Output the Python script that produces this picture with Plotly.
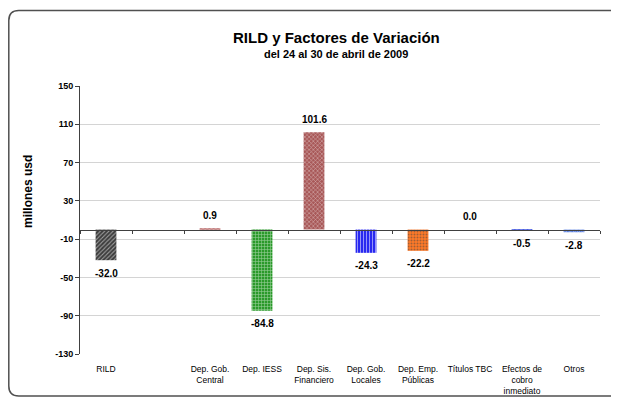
import plotly.graph_objects as go

categories = ["RILD", " ", "Dep. Gob.<br>Central", "Dep. IESS", "Dep. Sis.<br>Financiero",
              "Dep. Gob.<br>Locales", "Dep. Emp.<br>Públicas", "Títulos TBC",
              "Efectos de<br>cobro<br>inmediato", "Otros"]
values = [-32.0, None, 0.9, -84.8, 101.6, -24.3, -22.2, 0.0, -0.5, -2.8]
value_labels = ["-32.0", "", "0.9", "-84.8", "101.6", "-24.3", "-22.2", "0.0", "-0.5", "-2.8"]
bg_colors = ["#3c3c3c", "#ffffff", "#e0a0a0", "#2a9a2a", "#a85858", "#2828f0", "#ff7a28", "#ffffff", "#4a5ee0", "#5a80e0"]
fg_colors = ["#b0b0b0", "#ffffff", "#f0c0c0", "#90e090", "#e8c0c0", "#9090ff", "#ffc090", "#ffffff", "#a0b0ff", "#a8c0f0"]
shapes_pat = ["/", "", "x", "+", "x", "|", ".", "", "x", "x"]

y_ticks = [150, 110, 70, 30, -10, -50, -90, -130]

FONT = "Liberation Sans, Arial"

fig = go.Figure()
fig.add_trace(go.Bar(
    x=categories, y=values, width=0.4,
    marker=dict(color=bg_colors, line=dict(width=0),
                pattern=dict(shape=shapes_pat, fgcolor=fg_colors, bgcolor=bg_colors,
                             size=3, solidity=0.35, fillmode="overlay")),
    showlegend=False,
))
# invisible trace to activate xaxis2 (zero-line category axis)
fig.add_trace(go.Bar(x=categories, y=[None]*len(categories), xaxis="x2", showlegend=False, hoverinfo="skip"))

annotations = []
for cat, v, lab in zip(categories, values, value_labels):
    if v is None:
        continue
    annotations.append(dict(x=cat, y=v, xref="x", yref="y", text=f"<b>{lab}</b>",
                            showarrow=False, yshift=13 if v >= 0 else -13,
                            font=dict(family=FONT, size=10, color="#000000")))

# plot area: figure-x 72..592, figure-y 78..346 (268 px)
def px_to_paper_y(fy):
    return (346 - fy) / 268

def px_to_paper_x(fx):
    return (fx - 72) / 520

annotations += [
    dict(text="<b>RILD y Factores de Variación</b>", xref="paper", yref="paper",
         x=px_to_paper_x(328), y=px_to_paper_y(29), xanchor="center", yanchor="middle",
         showarrow=False, font=dict(family=FONT, size=15, color="#000000")),
    dict(text="<b>del 24 al 30 de abril de 2009</b>", xref="paper", yref="paper",
         x=px_to_paper_x(328), y=px_to_paper_y(46), xanchor="center", yanchor="middle",
         showarrow=False, font=dict(family=FONT, size=11, color="#000000")),
    dict(text="<b>millones usd</b>", xref="paper", yref="paper", textangle=-90,
         x=px_to_paper_x(20), y=px_to_paper_y(184), xanchor="center", yanchor="middle",
         showarrow=False, font=dict(family=FONT, size=12, color="#000000")),
]

L, R = px_to_paper_x(0.8), px_to_paper_x(630)
T, B = px_to_paper_y(2.5), px_to_paper_y(388)
rx, ry = 10 / 520, 10 / 268
frame_path = (f"M {L} {B+ry} L {L} {T-ry} Q {L} {T} {L+rx} {T} L {R-rx} {T} Q {R} {T} {R} {T-ry} "
              f"L {R} {B+ry} Q {R} {B} {R-rx} {B} L {L+rx} {B} Q {L} {B} {L} {B+ry} Z")

fig.update_layout(
    width=619, height=400,
    margin=dict(l=72, r=27, t=78, b=54),
    paper_bgcolor="white", plot_bgcolor="white",
    font=dict(family=FONT, color="#000000"),
    bargap=0.6,
    xaxis=dict(type="category", categoryorder="array", categoryarray=categories,
               range=[-0.5, 9.5], showline=False, showgrid=False, ticks="",
               tickfont=dict(size=8.5), zeroline=False, ticklabelstandoff=8),
    xaxis2=dict(type="category", categoryorder="array", categoryarray=categories,
                range=[-0.5, 9.5], overlaying="x", anchor="free", position=130/280,
                side="bottom", showline=True, linecolor="#404040", linewidth=1,
                ticks="outside", ticklen=3, tickcolor="#404040", tickson="boundaries",
                showticklabels=False, showgrid=False, zeroline=False),
    yaxis=dict(range=[-130, 150], tickmode="array", tickvals=y_ticks,
               ticktext=[str(v) for v in y_ticks], showline=True, linecolor="#404040",
               ticks="outside", ticklen=4, tickcolor="#404040",
               showgrid=True, gridcolor="#d4d4d4", gridwidth=1, zeroline=False,
               tickfont=dict(size=9, weight="bold")),
    annotations=annotations,
    shapes=[dict(type="path", xref="paper", yref="paper", path=frame_path,
                 line=dict(color="#505050", width=1.5), layer="below")],
)

fig.write_html("out.html")
